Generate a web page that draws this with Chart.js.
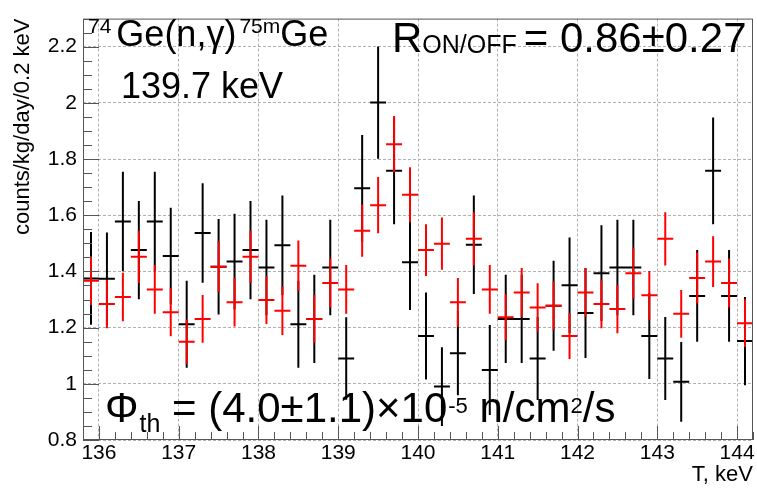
<!DOCTYPE html>
<html>
<head>
<meta charset="utf-8">
<script src="https://cdn.jsdelivr.net/npm/chart.js@4/dist/chart.umd.min.js"></script>
<style>
    html, body { margin: 0; padding: 0; background: #fff; }
    #wrap { width: 757px; height: 488px; }
</style>
</head>
<body>
<div id="wrap"><canvas id="myChart" width="757" height="488"></canvas></div>
<script>
// 0.2 keV bins, centre of each bin (keV)
const binCenters = [
    135.9, 136.1, 136.3, 136.5, 136.7, 136.9, 137.1, 137.3, 137.5, 137.7,
    137.9, 138.1, 138.3, 138.5, 138.7, 138.9, 139.1, 139.3, 139.5, 139.7,
    139.9, 140.1, 140.3, 140.5, 140.7, 140.9, 141.1, 141.3, 141.5, 141.7,
    141.9, 142.1, 142.3, 142.5, 142.7, 142.9, 143.1, 143.3, 143.5, 143.7,
    143.9, 144.1
];
const binHalfWidth = 0.1;

// black spectrum
const blackValues = [
    1.375, 1.374, 1.578, 1.476, 1.578, 1.455, 1.212, 1.537, 1.417, 1.435,
    1.476, 1.414, 1.493, 1.212, 1.231, 1.414, 1.090, 1.696, 2.001, 1.758,
    1.433, 1.170, 0.990, 1.109, 1.495, 1.049, 1.231, 1.231, 1.090, 1.278,
    1.351, 1.252, 1.394, 1.414, 1.414, 1.170, 1.090, 1.007, 1.313, 1.758,
    1.313, 1.152
];
const blackErrors = [
    0.165, 0.165, 0.177, 0.175, 0.177, 0.172, 0.155, 0.177, 0.170, 0.170,
    0.175, 0.170, 0.177, 0.155, 0.157, 0.170, 0.147, 0.190, 0.200, 0.190,
    0.170, 0.155, 0.140, 0.150, 0.175, 0.160, 0.157, 0.157, 0.148, 0.160,
    0.170, 0.160, 0.170, 0.170, 0.170, 0.153, 0.148, 0.142, 0.163, 0.190,
    0.163, 0.157
];

// red spectrum
const redValues = [
    1.367, 1.284, 1.309, 1.452, 1.336, 1.255, 1.150, 1.231, 1.417, 1.290,
    1.452, 1.298, 1.260, 1.420, 1.231, 1.359, 1.336, 1.545, 1.636, 1.853,
    1.673, 1.476, 1.499, 1.290, 1.516, 1.336, 1.237, 1.325, 1.272, 1.278,
    1.170, 1.325, 1.284, 1.266, 1.394, 1.315, 1.516, 1.249, 1.377, 1.435,
    1.359, 1.216
];
const redErrors = [
    0.087, 0.086, 0.086, 0.093, 0.087, 0.086, 0.079, 0.085, 0.090, 0.086,
    0.093, 0.085, 0.086, 0.090, 0.085, 0.087, 0.087, 0.093, 0.100, 0.100,
    0.098, 0.092, 0.093, 0.087, 0.095, 0.087, 0.082, 0.087, 0.086, 0.086,
    0.082, 0.087, 0.086, 0.086, 0.090, 0.087, 0.095, 0.085, 0.090, 0.090,
    0.087, 0.085
];

// axis ranges / ticks
const xMin = 135.8, xMax = 144.2, xStep = 1, xMinor = 0.2;
const yMin = 0.8, yMax = 2.3, yStep = 0.2, yMinor = 0.05;

const FONT = '"Liberation Sans", Arial, Helvetica, sans-serif';

// ROOT-like cross for each bin: horizontal bin bar + vertical error bar, null breaks the line
function crosses(values, errors) {
    const pts = [];
    binCenters.forEach((c, i) => {
        const v = values[i], e = errors[i];
        pts.push({x: c - binHalfWidth, y: v}, {x: c + binHalfWidth, y: v}, {x: c, y: null});
        pts.push({x: c, y: v - e}, {x: c, y: v + e}, {x: c, y: null});
    });
    return pts;
}

// text boxes: [text, size, dy, gapBefore]
const labels = [
    {x: 88, y: 46, parts: [['74', 21, -13, 0], ['Ge(n,γ)', 36, 0, 5], ['75m', 21, -13, 3], ['Ge', 36, 0, 0]]},
    {x: 121, y: 98, parts: [['139.7 keV', 36, 0, 0]]},
    {x: 392, y: 52, parts: [['R', 42, 0, 0], ['ON/OFF', 25, 1, 0], ['= 0.86±0.27', 42, 0, 7]]},
    {x: 105, y: 422, parts: [['Φ', 42, 0, 0], ['th', 25, 10, 1], [' = (4.0±1.1)×10', 42, 0, 0], ['-5', 22, -9, 1], [' n/cm', 42, 0, 0], ['2', 22, -9, 0], ['/s', 42, 0, 0]]}
];

const textPlugin = {
    id: 'textBoxes',
    afterDraw(chart) {
        const ctx = chart.ctx;
        ctx.save();
        ctx.fillStyle = '#000';
        ctx.textBaseline = 'alphabetic';
        ctx.textAlign = 'left';
        labels.forEach(lb => {
            let x = lb.x;
            lb.parts.forEach(([t, size, dy, gap]) => {
                x += gap;
                ctx.font = size + 'px ' + FONT;
                ctx.fillText(t, x, lb.y + dy);
                x += ctx.measureText(t).width;
            });
        });
        ctx.restore();
    }
};

// frame + ticks on the inside of the bottom and left axes
const framePlugin = {
    id: 'rootFrame',
    afterDatasetsDraw(chart) {
        const {ctx, chartArea: a, scales: {x, y}} = chart;
        ctx.save();
        ctx.strokeStyle = '#555';
        ctx.lineWidth = 1;
        ctx.beginPath();
        const nx = Math.round((xMax - xMin) / xMinor);
        for (let k = 0; k <= nx; k++) {
            const v = xMin + k * xMinor;
            const major = Math.abs(v - Math.round(v / xStep) * xStep) < 1e-6;
            const px = Math.round(x.getPixelForValue(v)) + 0.5;
            ctx.moveTo(px, a.bottom);
            ctx.lineTo(px, a.bottom - (major ? 14 : 8));
        }
        const ny = Math.round((yMax - yMin) / yMinor);
        for (let k = 0; k <= ny; k++) {
            const v = yMin + k * yMinor;
            const major = Math.abs(v / yStep - Math.round(v / yStep)) < 1e-6;
            const py = Math.round(y.getPixelForValue(v)) + 0.5;
            ctx.moveTo(a.left, py);
            ctx.lineTo(a.left + (major ? 16 : 9), py);
        }
        ctx.stroke();
        ctx.strokeRect(a.left + 0.5, a.top + 0.5, a.right - a.left - 1, a.bottom - a.top - 1);
        ctx.restore();
    }
};

function createChart() {
    Chart.defaults.font.family = FONT;
    Chart.defaults.color = '#000';
    const ctx = document.getElementById('myChart');
    new Chart(ctx, {
        type: 'scatter',
        data: {
            datasets: [
                {
                    label: 'red',
                    data: crosses(redValues, redErrors),
                    showLine: true,
                    spanGaps: false,
                    borderColor: '#ff0000',
                    borderWidth: 2,
                    pointRadius: 0,
                    order: 1
                },
                {
                    label: 'black',
                    data: crosses(blackValues, blackErrors),
                    showLine: true,
                    spanGaps: false,
                    borderColor: '#000000',
                    borderWidth: 2,
                    pointRadius: 0,
                    order: 2
                }
            ]
        },
        options: {
            responsive: false,
            animation: false,
            devicePixelRatio: 1,
            layout: { padding: { left: 0, top: 8, right: 4, bottom: 0 } },
            plugins: {
                legend: { display: false },
                tooltip: { enabled: false }
            },
            scales: {
                x: {
                    type: 'linear',
                    min: xMin,
                    max: xMax,
                    afterFit: s => { s.height = 48; },
                    grid: { color: '#b0b0b0', lineWidth: 1, drawTicks: false },
                    border: { display: false, dash: [3, 2] },
                    ticks: {
                        stepSize: xStep,
                        includeBounds: false,
                        autoSkip: false,
                        maxRotation: 0,
                        padding: 1,
                        font: { size: 21 },
                        callback: v => String(v)
                    },
                    title: {
                        display: true,
                        text: 'T, keV',
                        align: 'end',
                        font: { size: 22, lineHeight: 1 },
                        padding: { top: 0, bottom: 2 }
                    }
                },
                y: {
                    type: 'linear',
                    min: yMin,
                    max: yMax,
                    afterFit: s => { s.width = 83; },
                    grid: { color: '#b0b0b0', lineWidth: 1, drawTicks: false },
                    border: { display: false, dash: [3, 2] },
                    ticks: {
                        stepSize: yStep,
                        includeBounds: false,
                        padding: 6,
                        font: { size: 21 },
                        callback: v => String(Math.round(v * 10) / 10)
                    },
                    title: {
                        display: true,
                        text: 'counts/kg/day/0.2 keV',
                        align: 'end',
                        font: { size: 22 },
                        padding: { top: 10, bottom: 0 }
                    }
                }
            }
        },
        plugins: [framePlugin, textPlugin]
    });
}

createChart();
</script>
</body>
</html>
